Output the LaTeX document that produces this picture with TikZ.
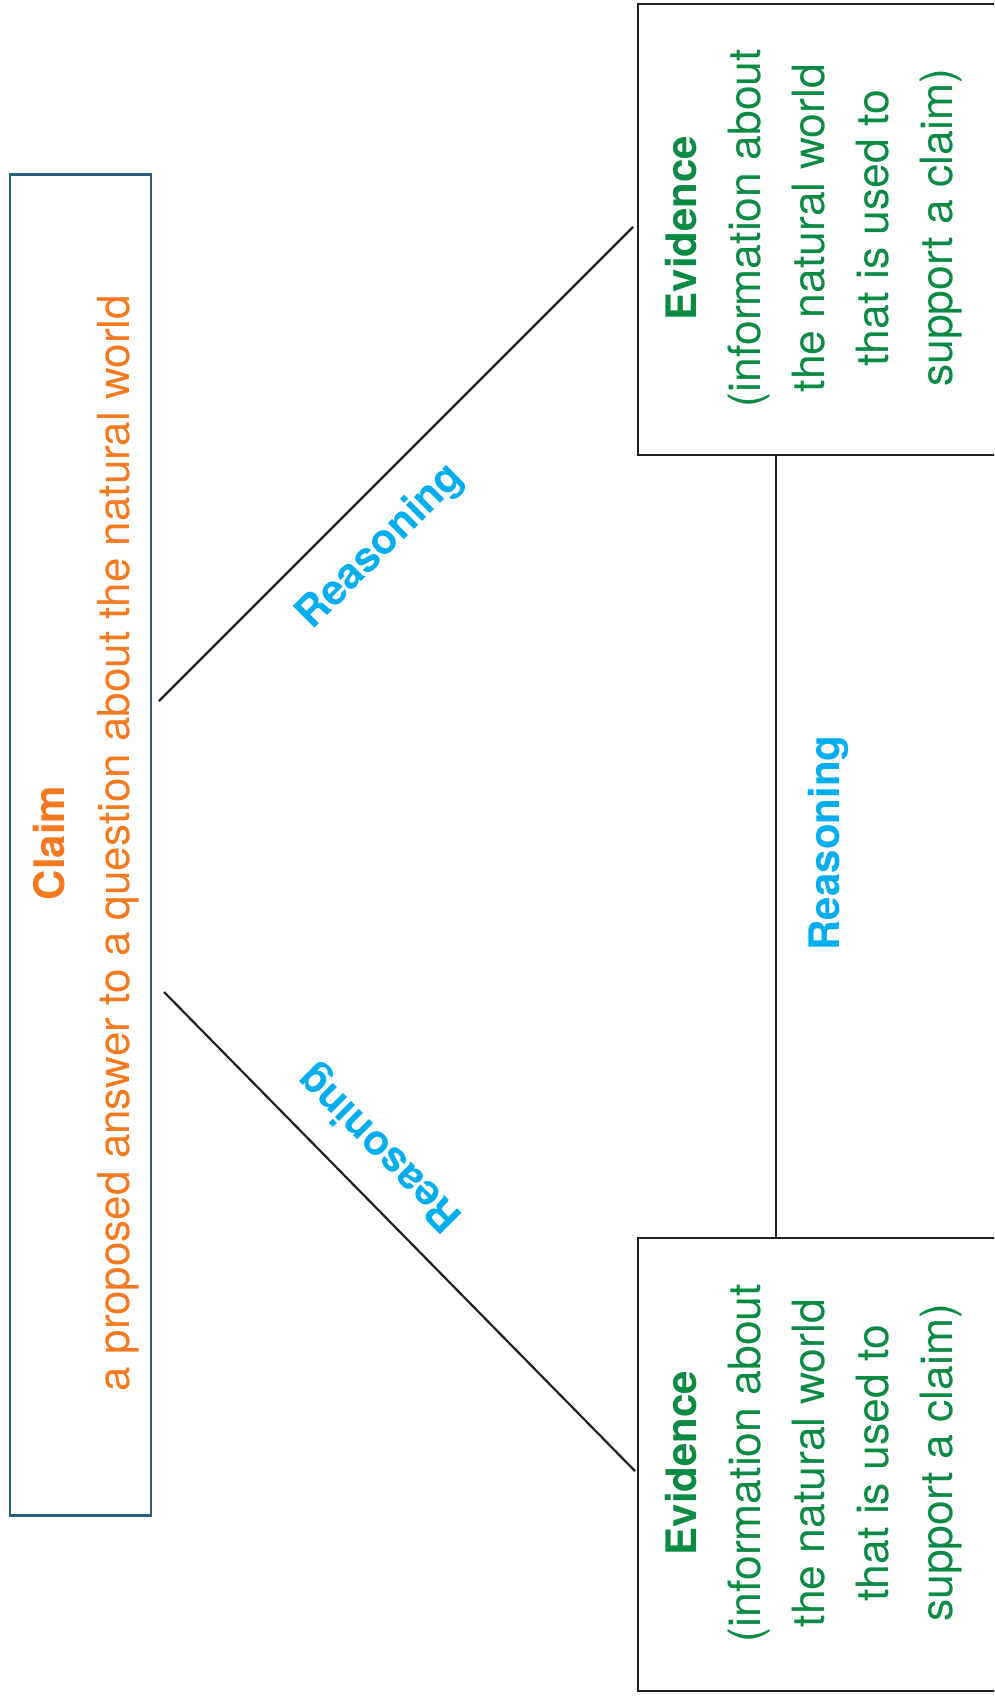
\documentclass[tikz,border=0pt]{standalone}
\usepackage{fontspec}
\setmainfont{TeX Gyre Heros}
\usetikzlibrary{calc}

\definecolor{claimorange}{HTML}{F47920}
\definecolor{evgreen}{HTML}{0A8A43}
\definecolor{reasoncyan}{HTML}{00AEEF}
\definecolor{claimframe}{HTML}{2C5F7C}
\definecolor{inkline}{HTML}{231F20}

\tikzset{
  claimbox/.style={draw=claimframe, line width=2.8pt, inner sep=0pt, anchor=north west},
  evbox/.style={draw=inkline, line width=2.2pt, inner sep=0pt, anchor=north west,
    minimum width=380pt, minimum height=451pt},
  link/.style={draw=inkline, line width=2.2pt},
  claimtext/.style={rotate=90, inner sep=0pt, align=center, text=claimorange,
    font=\fontsize{44}{65}\selectfont},
  evtext/.style={rotate=90, inner sep=0pt, align=center, text=evgreen,
    font=\fontsize{44.5}{64}\selectfont},
  reasonlabel/.style={inner sep=0pt, text=reasoncyan,
    font=\fontsize{42}{50}\selectfont\bfseries},
}

\begin{document}
\begin{tikzpicture}[x=1pt, y=-1pt]
  \useasboundingbox (0,0) rectangle (994,1696);
  \clip (0,0) rectangle (994,1696);
  \fill[white] (0,0) rectangle (994,1696);

  % boxes
  \node[claimbox, minimum width=141pt, minimum height=1341pt] (claim) at (8.5,173) {};
  \node[evbox] (evA) at (637,3) {};
  \node[evbox, minimum height=453pt] (evB) at (637,1237) {};

  % box texts
  \node[claimtext] (claimtxt) at (86,843)
    {{\fontsize{42}{65}\selectfont\bfseries Claim}\\
     a proposed answer to a question about the natural world};
  \node[evtext] (evAtxt) at (814,228)
    {{\fontsize{42}{64}\selectfont\bfseries Evidence}\\
     (information about\\ the natural world\\ that is used to\\ support a claim)};
  \node[evtext] (evBtxt) at (814,1463)
    {{\fontsize{42}{64}\selectfont\bfseries Evidence}\\
     (information about\\ the natural world\\ that is used to\\ support a claim)};

  % connector end points
  \coordinate (upstart) at (159,701);
  \coordinate (upend) at (633,227);
  \coordinate (lowstart) at (164,992);
  \coordinate (lowend) at (635,1471);
  \coordinate (vx) at (776,0);

  % connectors
  \draw[link] (upstart) -- (upend);
  \draw[link] (lowstart) -- (lowend);
  \draw[link] (evA.south -| vx) -- (evB.north -| vx);

  % reasoning labels
  \node[reasonlabel, rotate=45] (rsA) at (381,547) {Reasoning};
  \node[reasonlabel, rotate=90] (rsV) at (828.5,843) {Reasoning};
  \node[reasonlabel, rotate=135] (rsB) at (381,1147) {Reasoning};
\end{tikzpicture}
\end{document}
